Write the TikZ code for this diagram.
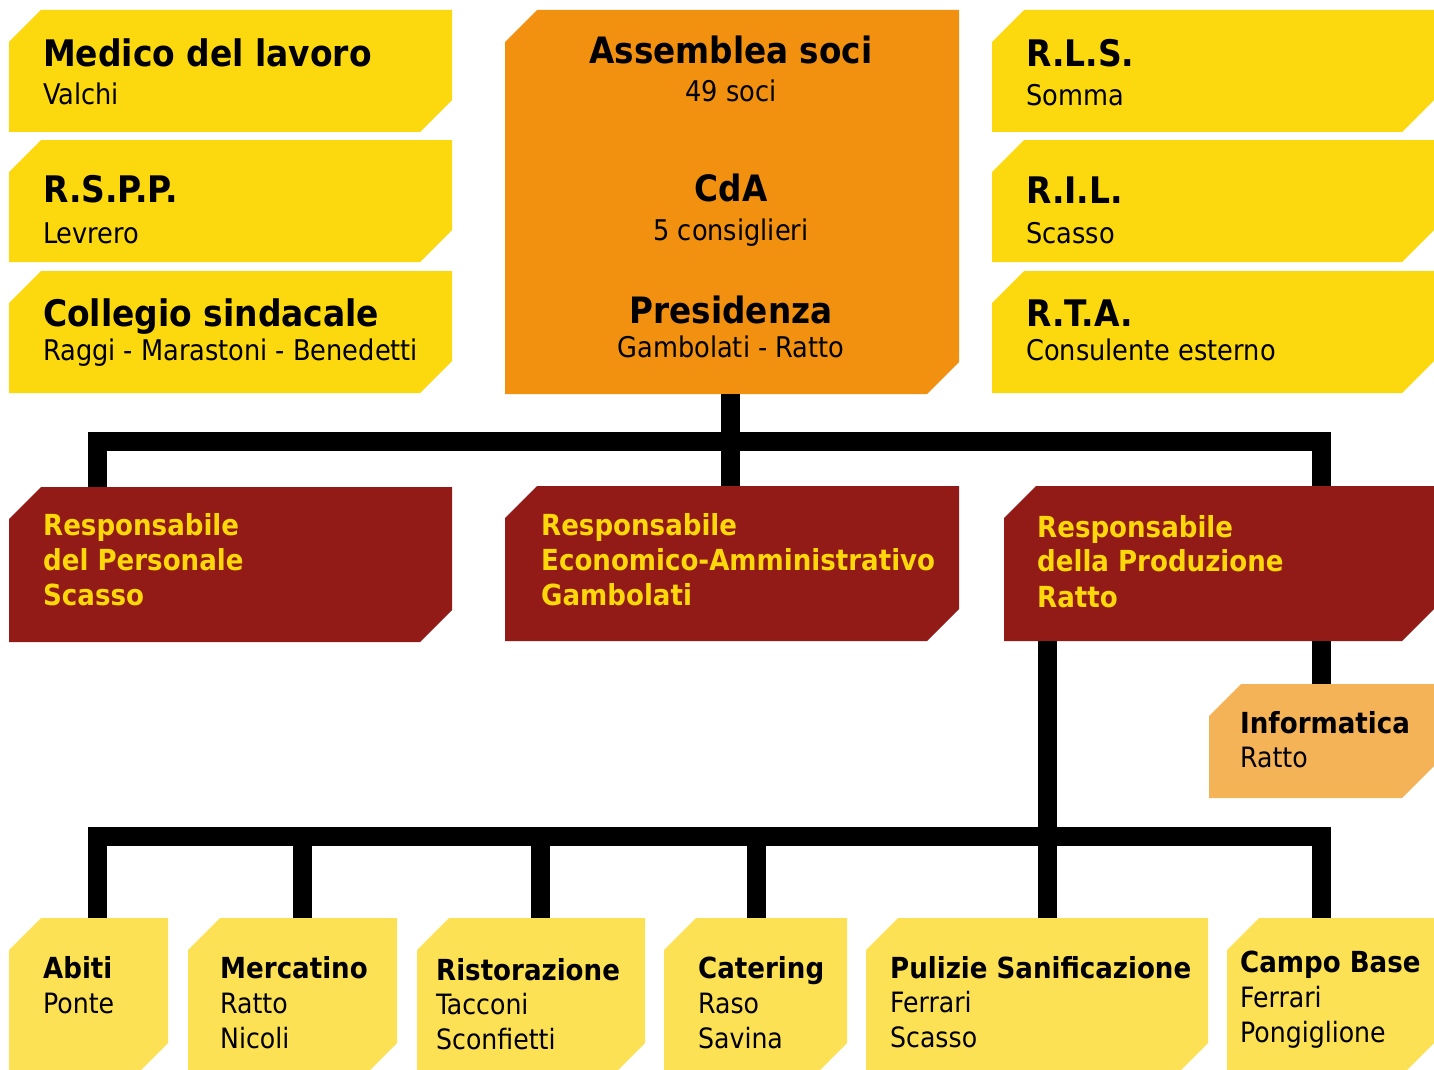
\documentclass[tikz,border=0pt]{standalone}
\usepackage{fontspec}
\setmainfont{DejaVu Sans Condensed}
\usetikzlibrary{fit}
\definecolor{topyel}{RGB}{252,217,14}
\definecolor{orng}{RGB}{241,145,15}
\definecolor{dred}{RGB}{146,26,23}
\definecolor{redtxt}{RGB}{252,215,10}
\definecolor{infoc}{RGB}{245,179,88}
\definecolor{botyel}{RGB}{252,225,85}
\newcommand\cutbox[6]{%
  \fill[#6] (#2,#3+32) -- (#2+32,#3) -- (#4,#3) -- (#4,#5-32) -- (#4-32,#5) -- (#2,#5) -- cycle;
  \coordinate (#1-nw) at (#2,#3);
  \coordinate (#1-se) at (#4,#5);
  \node[inner sep=0, fit=(#1-nw)(#1-se)] (#1) {};
}
\tikzset{
  ttl/.style={anchor=base west, inner sep=0, font=\bfseries\fontsize{36.6}{40}\selectfont},
  sub/.style={anchor=base west, inner sep=0, font=\fontsize{28.5}{32}\selectfont},
  cttl/.style={anchor=base, inner sep=0, font=\bfseries\fontsize{36.3}{40}\selectfont},
  csub/.style={anchor=base, inner sep=0, font=\fontsize{28.5}{32}\selectfont},
  rtxt/.style={anchor=base west, inner sep=0, text=redtxt, font=\bfseries\fontsize{29}{32}\selectfont},
  bttl/.style={anchor=base west, inner sep=0, font=\bfseries\fontsize{29}{32}\selectfont},
  bsub/.style={anchor=base west, inner sep=0, font=\fontsize{28}{32}\selectfont},
  conn/.style={draw=black, line width=19pt, line join=miter}
}
\begin{document}
\begin{tikzpicture}[x=1pt,y=-1pt]
\useasboundingbox (0,0) rectangle (1434,1070);
\fill[white] (0,0) rectangle (1434,1070);
\coordinate (tA) at (97,441);
\coordinate (tB) at (1321,441);
\coordinate (bA) at (97,836);
\coordinate (bB) at (1321,836);
\coordinate (bM) at (302,836);
\coordinate (bR) at (540,836);
\coordinate (bC) at (756,836);
\coordinate (bP) at (1047,836);
% top boxes
\cutbox{med}{9}{10}{452}{132}{topyel}
\cutbox{rspp}{9}{140}{452}{262}{topyel}
\cutbox{coll}{9}{271}{452}{393}{topyel}
\cutbox{asm}{505}{10}{959}{394}{orng}
\cutbox{rls}{992}{10}{1434}{132}{topyel}
\cutbox{ril}{992}{140}{1434}{262}{topyel}
\cutbox{rta}{992}{271}{1434}{393}{topyel}
% second row
\cutbox{pers}{9}{487}{452}{642}{dred}
\cutbox{eco}{505}{486}{959}{641}{dred}
\cutbox{prod}{1004}{486}{1434}{641}{dred}
\cutbox{info}{1209}{684}{1434}{798}{infoc}
% bottom row
\cutbox{abiti}{9}{918}{168}{1075}{botyel}
\cutbox{merc}{188}{918}{397}{1075}{botyel}
\cutbox{rist}{417}{918}{645}{1075}{botyel}
\cutbox{cat}{664}{918}{847}{1075}{botyel}
\cutbox{pul}{866}{918}{1208}{1075}{botyel}
\cutbox{campo}{1227}{918}{1434}{1075}{botyel}
% connectors
\coordinate (cx) at (730,0);
\draw[conn] (asm.south -| cx) -- (eco.north -| cx);
\draw[conn] (pers.north -| tA) -- (tA) -- (tB) -- (prod.north -| tB);
\draw[conn] (prod.south -| tB) -- (info.north -| tB);
\draw[conn] (prod.south -| bP) -- (pul.north -| bP);
\draw[conn] (abiti.north -| bA) -- (bA) -- (bB) -- (campo.north -| bB);
\draw[conn] (bM) -- (merc.north -| bM);
\draw[conn] (bR) -- (rist.north -| bR);
\draw[conn] (bC) -- (cat.north -| bC);
% texts top left
\node[ttl] (t1) at (43,67) {Medico del lavoro};
\node[sub] (s1) at (43,105) {Valchi};
\node[ttl] (t2) at (43,202) {R.S.P.P.};
\node[sub] (s2) at (43,243) {Levrero};
\node[ttl] (t3) at (43,326) {Collegio sindacale};
\node[sub] (s3) at (43,360) {Raggi - Marastoni - Benedetti};
% top right
\node[ttl] (t4) at (1026,67) {R.L.S.};
\node[sub] (s4) at (1026,106) {Somma};
\node[ttl] (t5) at (1026,203) {R.I.L.};
\node[sub] (s5) at (1026,243) {Scasso};
\node[ttl] (t6) at (1026,326) {R.T.A.};
\node[sub] (s6) at (1026,360) {Consulente esterno};
% center
\node[cttl] (c1) at (731,64) {Assemblea soci};
\node[csub] (c2) at (731,102) {49 soci};
\node[cttl] (c3) at (731,201) {CdA};
\node[csub] (c4) at (731,240) {5 consiglieri};
\node[cttl] (c5) at (731,323) {Presidenza};
\node[csub] (c6) at (731,357) {Gambolati - Ratto};
% red boxes
\node[rtxt] (r1) at (43,535) {Responsabile};
\node[rtxt] (r2) at (43,570) {del Personale};
\node[rtxt] (r3) at (43,605) {Scasso};
\node[rtxt] (r4) at (541,535) {Responsabile};
\node[rtxt] (r5) at (541,570) {Economico-Amministrativo};
\node[rtxt] (r6) at (541,605) {Gambolati};
\node[rtxt] (r7) at (1037,537) {Responsabile};
\node[rtxt] (r8) at (1037,571) {della Produzione};
\node[rtxt] (r9) at (1037,607) {Ratto};
% informatica
\node[bttl] (i1) at (1240,733) {Informatica};
\node[bsub] (i2) at (1240,767) {Ratto};
% bottom
\node[bttl] (b1) at (43,978) {Abiti};
\node[bsub] (b2) at (43,1013) {Ponte};
\node[bttl] (b3) at (220,978) {Mercatino};
\node[bsub] (b4) at (220,1013) {Ratto};
\node[bsub] (b5) at (220,1048) {Nicoli};
\node[bttl] (b6) at (436,980) {Ristorazione};
\node[bsub] (b7) at (436,1014) {Tacconi};
\node[bsub] (b8) at (436,1049) {Sconfietti};
\node[bttl] (b9) at (698,978) {Catering};
\node[bsub] (b10) at (698,1013) {Raso};
\node[bsub] (b11) at (698,1048) {Savina};
\node[bttl] (b12) at (890,978) {Pulizie Sanificazione};
\node[bsub] (b13) at (890,1012) {Ferrari};
\node[bsub] (b14) at (890,1047) {Scasso};
\node[bttl] (b15) at (1240,972) {Campo Base};
\node[bsub] (b16) at (1240,1007) {Ferrari};
\node[bsub] (b17) at (1240,1042) {Pongiglione};
\end{tikzpicture}
\end{document}
